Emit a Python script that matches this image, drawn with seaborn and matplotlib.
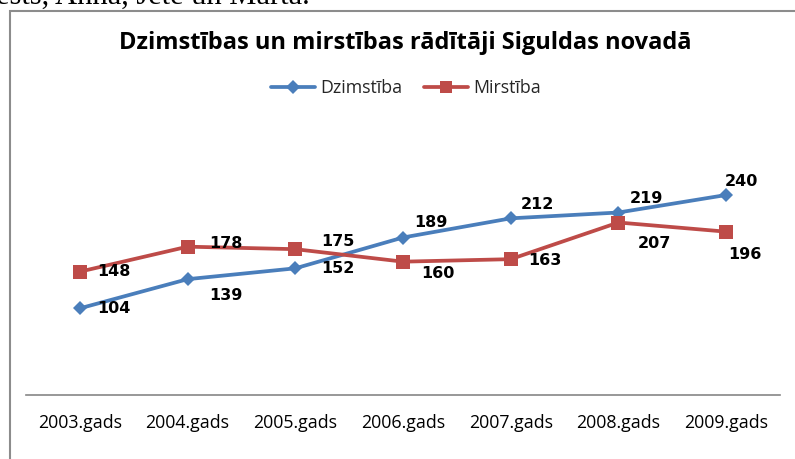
import matplotlib
matplotlib.use("Agg")
import matplotlib.pyplot as plt
import seaborn as sns
import pandas as pd
from matplotlib.patches import Rectangle
from matplotlib.lines import Line2D

years = ["2003.gads", "2004.gads", "2005.gads", "2006.gads", "2007.gads", "2008.gads", "2009.gads"]
dzimstiba = [104, 139, 152, 189, 212, 219, 240]
mirstiba = [148, 178, 175, 160, 163, 207, 196]
series_names = ["Dzimstība", "Mirstība"]
title = "Dzimstības un mirstības rādītāji Siguldas novadā"
top_text = "ests, Anna, Jete un Marta."

df = pd.DataFrame({
    "year": years * 2,
    "value": dzimstiba + mirstiba,
    "series": [series_names[0]] * len(years) + [series_names[1]] * len(years),
})

sns.set_theme(style="white")
plt.rcParams["font.family"] = ["Open Sans", "DejaVu Sans"]

blue = "#4A7EBB"
red = "#BE4B48"

fig = plt.figure(figsize=(7.95, 4.59), dpi=100)
ax = fig.add_axes([26 / 795, 1 - 395 / 459, (780 - 26) / 795, (395 - 145) / 459])

sns.lineplot(data=df, x="year", y="value", hue="series", style="series",
             palette={series_names[0]: blue, series_names[1]: red},
             markers={series_names[0]: "D", series_names[1]: "s"},
             dashes=False, linewidth=2.7, ax=ax, legend=False, sort=False)
for line, ms in zip(ax.lines, [7.5, 10]):
    line.set_markersize(ms)
    line.set_markeredgewidth(0)

ax.set_xlim(-0.5, len(years) - 0.5)
ax.set_ylim(0, 300)
ax.set_xlabel("")
ax.set_ylabel("")
ax.set_yticks([])
for s in ["top", "right", "left"]:
    ax.spines[s].set_visible(False)
ax.spines["bottom"].set_color("#868686")
ax.spines["bottom"].set_linewidth(1.2)
ax.tick_params(axis="x", length=0, pad=14, labelsize=12.8, labelcolor="black")
ax.patch.set_alpha(0)

# data labels (pixel offsets)
off_d = [(34, 0), (38, -16), (43, 0), (28, 15), (27, 14), (28, 14), (15, 13)]
off_m = [(34, 0), (38, 3), (43, 8), (35, -12), (34, -1), (36, -21), (19, -23)]
for i, (v, o) in enumerate(zip(dzimstiba, off_d)):
    ax.annotate(str(v), (i, v), xytext=o, textcoords="offset pixels",
                ha="center", va="center", fontsize=11.5, fontweight="bold", color="black",
                family=["DejaVu Sans"])
for i, (v, o) in enumerate(zip(mirstiba, off_m)):
    ax.annotate(str(v), (i, v), xytext=o, textcoords="offset pixels",
                ha="center", va="center", fontsize=11.5, fontweight="bold", color="black",
                family=["DejaVu Sans"])

fig.text(405 / 795, 1 - 43 / 459, title, ha="center", va="center",
         fontsize=17, fontweight="bold", color="black")

handles = [Line2D([0], [0], color=blue, lw=2.7, marker="D", ms=7, mew=0),
           Line2D([0], [0], color=red, lw=2.7, marker="s", ms=9, mew=0)]
fig.legend(handles, series_names, loc="center", bbox_to_anchor=(406 / 795, 1 - 88 / 459),
           ncol=2, frameon=False, fontsize=12.8, handlelength=2.5, columnspacing=1.2,
           handletextpad=0.3)

# chart frame (cropped)
fig.patches.append(Rectangle((10 / 795, -0.1), 1.2, (1 - 11 / 459) + 0.1,
                             transform=fig.transFigure, fill=False,
                             edgecolor="#8C8C8C", linewidth=1.5))
fig.text(-4 / 795, 1 - 4 / 459, top_text, ha="left", va="baseline",
         fontsize=22, family=["Liberation Serif"], color="black")

fig.savefig("out.png", dpi=100)
